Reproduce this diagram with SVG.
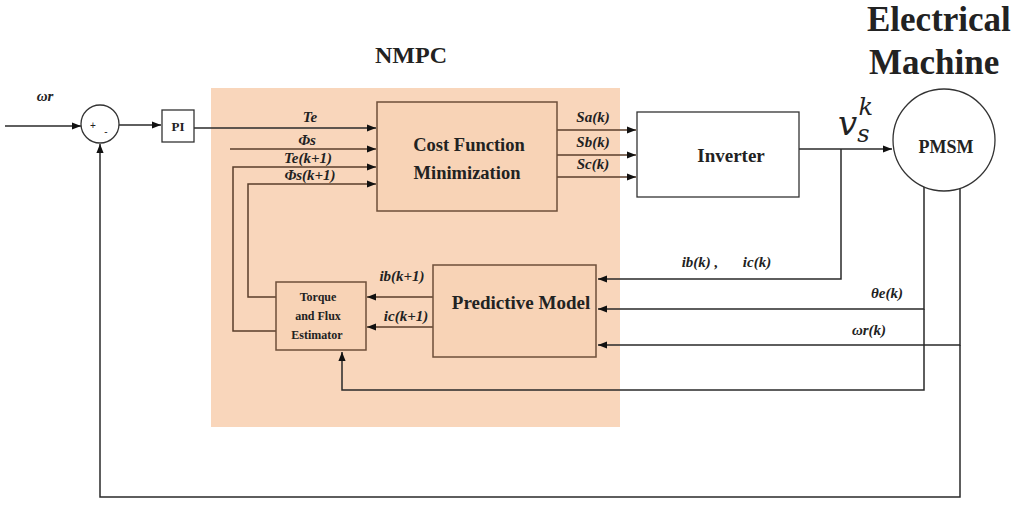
<svg xmlns="http://www.w3.org/2000/svg" width="1019" height="505" viewBox="0 0 1019 505">
<style>
.ln{fill:none;stroke:#2a2a2a;stroke-width:1.5}
.lb{fill:none;stroke:#5a3e2b;stroke-width:1.5}
.box{fill:#f8d3b6;stroke:#6e4f3a;stroke-width:1.5}
.wbox{fill:#fff;stroke:#333;stroke-width:1.3}
.bt{font-family:"Liberation Serif",serif;font-weight:bold;fill:#222}
.it{font-family:"Liberation Serif",serif;font-style:italic;font-weight:bold;fill:#222;font-size:15px;text-anchor:middle}
</style>
<defs>
<marker id="ah" viewBox="0 0 10 10" refX="10" refY="5" markerWidth="9" markerHeight="9" markerUnits="userSpaceOnUse" orient="auto">
<path d="M0,1 L10,5 L0,9 Z" fill="#111"/>
</marker>
</defs>
<rect id="nmpc-bg" x="211" y="88" width="409" height="339" fill="#f9d6bb"/>
<text class="bt" x="375" y="63" font-size="24">NMPC</text>
<text class="bt" x="867" y="31" font-size="35">Electrical</text>
<text class="bt" x="869" y="74" font-size="35">Machine</text>

<g id="connectors">
<line class="ln" x1="5" y1="126" x2="81" y2="126" marker-end="url(#ah)"/>
<line class="ln" x1="119" y1="125" x2="161" y2="125" marker-end="url(#ah)"/>
<line class="ln" x1="194" y1="128" x2="376" y2="128" marker-end="url(#ah)"/>
<line class="lb" x1="230" y1="149" x2="376" y2="149" marker-end="url(#ah)"/>
<polyline class="lb" points="276,331 233,331 233,167 376,167" marker-end="url(#ah)"/>
<polyline class="lb" points="276,297 248,297 248,184 376,184" marker-end="url(#ah)"/>
<line class="lb" x1="557" y1="130" x2="636" y2="130" marker-end="url(#ah)"/>
<line class="lb" x1="557" y1="155" x2="636" y2="155" marker-end="url(#ah)"/>
<line class="lb" x1="557" y1="177" x2="636" y2="177" marker-end="url(#ah)"/>
<line class="ln" x1="799" y1="149" x2="892" y2="149" marker-end="url(#ah)"/>
<polyline class="ln" points="841,149 841,279 598,279" marker-end="url(#ah)"/>
<polyline class="ln" points="924,186 924,309 598,309" marker-end="url(#ah)"/>
<polyline class="ln" points="960,186 960,345 598,345" marker-end="url(#ah)"/>
<polyline class="ln" points="924,309 924,390 342,390 342,352" marker-end="url(#ah)"/>
<polyline class="ln" points="960,345 960,497 100,497 100,144" marker-end="url(#ah)"/>
<line class="lb" x1="433" y1="297" x2="367" y2="297" marker-end="url(#ah)"/>
<line class="lb" x1="433" y1="327" x2="367" y2="327" marker-end="url(#ah)"/>
</g>

<g id="sum">
<circle cx="100" cy="124" r="19" fill="#fff" stroke="#333" stroke-width="1.3"/>
<text x="93" y="129" font-family="Liberation Sans,sans-serif" font-size="10" fill="#222" text-anchor="middle">+</text>
<text x="106" y="135" font-family="Liberation Sans,sans-serif" font-size="10" fill="#222" text-anchor="middle">-</text>
<text class="it" x="45" y="101" font-size="17">ωr</text>
</g>

<g id="pi">
<rect class="wbox" x="162" y="110" width="32" height="32"/>
<text class="bt" x="178" y="131" font-size="13" text-anchor="middle">PI</text>
</g>

<g id="cost">
<rect class="box" x="377" y="102" width="180" height="109"/>
<text class="bt" x="469" y="151" font-size="18.5" text-anchor="middle">Cost Function</text>
<text class="bt" x="467" y="179" font-size="18.5" text-anchor="middle">Minimization</text>
</g>
<text class="it" x="310" y="122">Te</text>
<text class="it" x="307" y="145">Φs</text>
<text class="it" x="308" y="163">Te(k+1)</text>
<text class="it" x="310" y="180">Φs(k+1)</text>
<text class="it" x="593" y="122">Sa(k)</text>
<text class="it" x="593" y="147">Sb(k)</text>
<text class="it" x="593" y="169">Sc(k)</text>

<g id="inverter">
<rect class="wbox" x="637" y="112" width="162" height="85"/>
<text class="bt" x="731" y="162" font-size="19" text-anchor="middle">Inverter</text>
</g>

<g id="pmsm">
<circle cx="944" cy="140" r="51" fill="#fff" stroke="#333" stroke-width="1.3"/>
<text class="bt" x="946" y="153" font-size="18" text-anchor="middle">PMSM</text>
</g>
<text x="838" y="135" font-family="DejaVu Serif,serif" font-style="italic" font-size="34" fill="#222">v<tspan font-size="24" dy="7">s</tspan><tspan font-size="24" dx="-11" dy="-27">k</tspan></text>

<g id="predictive">
<rect class="box" x="433" y="265" width="163" height="92"/>
<text class="bt" x="521" y="309" font-size="19" text-anchor="middle">Predictive Model</text>
</g>

<g id="estimator">
<rect class="box" x="276" y="282" width="90" height="68"/>
<text class="bt" x="318" y="301" font-size="12" text-anchor="middle">Torque</text>
<text class="bt" x="318" y="320" font-size="12" text-anchor="middle">and Flux</text>
<text class="bt" x="317" y="339" font-size="12" text-anchor="middle">Estimator</text>
</g>
<text class="it" x="402" y="281">ib(k+1)</text>
<text class="it" x="406" y="321">ic(k+1)</text>
<text class="it" x="700" y="267">ib(k) ,</text>
<text class="it" x="757" y="267">ic(k)</text>
<text class="it" x="887" y="298" font-size="16">θe(k)</text>
<text class="it" x="869" y="335" font-size="16">ωr(k)</text>
</svg>
